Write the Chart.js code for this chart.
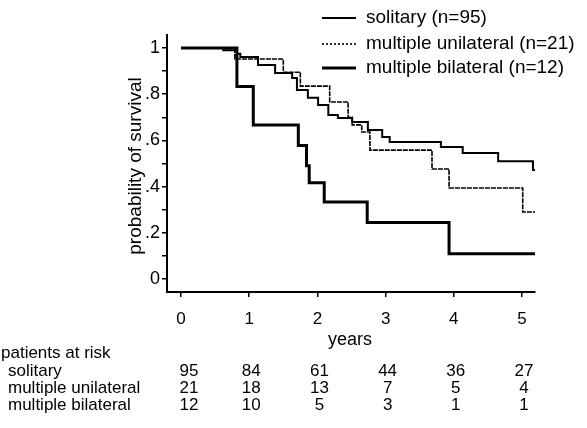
<!DOCTYPE html>
<html>
<head>
<meta charset="utf-8">
<script src="https://cdn.jsdelivr.net/npm/chart.js@4.4.1/dist/chart.umd.min.js"></script>
<style>
  html, body { margin: 0; padding: 0; background: #fff; }
  #wrap { width: 587px; height: 428px; }
</style>
</head>
<body>
<div id="wrap"><canvas id="chart" width="587" height="428"></canvas></div>
<script>
// axis ticks
const yearTicks = [0, 1, 2, 3, 4, 5];
const yearLabels = ['0', '1', '2', '3', '4', '5'];
const survTicks = [0, 0.1, 0.2, 0.3, 0.4, 0.5, 0.6, 0.7, 0.8, 0.9, 1];
const survLabels = ['0', '', '.2', '', '.4', '', '.6', '', '.8', '', '1'];

// Kaplan-Meier curves (time in years, survival)
const seriesNames = ['solitary (n=95)', 'multiple unilateral (n=21)', 'multiple bilateral (n=12)'];

const solitaryTimes = [0, 0.62, 0.82, 0.87, 1.13, 1.38, 1.63, 1.70, 1.86, 2.01, 2.16, 2.30, 2.51, 2.74, 2.95, 3.06, 3.81, 4.13, 4.65, 5.16, 5.19];
const solitarySurv  = [1, 0.99, 0.975, 0.961, 0.926, 0.892, 0.870, 0.818, 0.784, 0.753, 0.71, 0.697, 0.68, 0.645, 0.615, 0.593, 0.571, 0.545, 0.51, 0.472, 0.472];

const unilateralTimes = [0, 0.79, 1.50, 1.75, 2.18, 2.45, 2.51, 2.65, 2.77, 3.68, 3.93, 5.01, 5.19];
const unilateralSurv  = [1, 0.952, 0.895, 0.835, 0.766, 0.70, 0.667, 0.636, 0.558, 0.476, 0.394, 0.29, 0.29];

const bilateralTimes = [0, 0.82, 1.06, 1.72, 1.84, 1.88, 2.10, 2.73, 3.93, 5.19];
const bilateralSurv  = [1, 0.833, 0.667, 0.578, 0.49, 0.417, 0.333, 0.245, 0.11, 0.11];

// patients at risk table
const riskTitle = 'patients at risk';
const riskGroups = ['solitary', 'multiple unilateral', 'multiple bilateral'];
const riskSolitary = [95, 84, 61, 44, 36, 27];
const riskUnilateral = [21, 18, 13, 7, 5, 4];
const riskBilateral = [12, 10, 5, 3, 1, 1];

function toPoints(times, surv) {
  return times.map(function(t, i) { return {x: t, y: surv[i]}; });
}

const fontFamily = '"Liberation Sans", Arial, Helvetica, sans-serif';
function font(px) { return px + 'px ' + fontFamily; }

const lineWidths = [2, 1.6, 3];
const legendDash = [[], [2, 2], []];

var extraText = {
  id: 'extraText',
  afterDraw: function(chart) {
    const ctx = chart.ctx;
    const xs = chart.scales.x;
    ctx.save();
    ctx.fillStyle = '#000';
    ctx.strokeStyle = '#000';
    ctx.textBaseline = 'middle';

    // legend
    const legendY = [18, 44, 68];
    ctx.font = font(19);
    for (var i = 0; i < seriesNames.length; i++) {
      ctx.lineWidth = lineWidths[i];
      ctx.setLineDash(legendDash[i]);
      ctx.beginPath();
      ctx.moveTo(322, legendY[i]);
      ctx.lineTo(356, legendY[i]);
      ctx.stroke();
      ctx.setLineDash([]);
      ctx.textAlign = 'left';
      ctx.fillText(seriesNames[i], 366, legendY[i]);
    }

    // y title
    ctx.save();
    ctx.translate(136, 166);
    ctx.rotate(-Math.PI / 2);
    ctx.textAlign = 'center';
    ctx.font = font(19);
    ctx.fillText('probability of survival', 0, 0);
    ctx.restore();

    // x title
    ctx.textAlign = 'center';
    ctx.font = font(18);
    ctx.fillText('years', 350, 340);

    // at risk table
    ctx.font = font(17);
    ctx.textAlign = 'left';
    ctx.fillText(riskTitle, 1, 353);
    const rows = [riskSolitary, riskUnilateral, riskBilateral];
    const rowY = [371, 388, 405];
    for (var r = 0; r < rows.length; r++) {
      ctx.textAlign = 'left';
      ctx.fillText(riskGroups[r], 8, rowY[r]);
      ctx.textAlign = 'center';
      for (var c = 0; c < yearTicks.length; c++) {
        var px = xs.getPixelForValue(yearTicks[c]) + (c === 0 ? 8 : 2);
        ctx.fillText(String(rows[r][c]), px, rowY[r]);
      }
    }
    ctx.restore();
  }
};

const data = {
  datasets: [
    {
      label: seriesNames[0],
      data: toPoints(solitaryTimes, solitarySurv),
      borderColor: '#000',
      borderWidth: lineWidths[0],
      stepped: 'before',
      pointRadius: 0,
      fill: false
    },
    {
      label: seriesNames[1],
      data: toPoints(unilateralTimes, unilateralSurv),
      borderColor: '#000',
      borderWidth: lineWidths[1],
      borderDash: [5, 1],
      stepped: 'before',
      pointRadius: 0,
      fill: false
    },
    {
      label: seriesNames[2],
      data: toPoints(bilateralTimes, bilateralSurv),
      borderColor: '#000',
      borderWidth: lineWidths[2],
      stepped: 'before',
      pointRadius: 0,
      fill: false
    }
  ]
};

const config = {
  type: 'line',
  data: data,
  plugins: [extraText],
  options: {
    responsive: false,
    animation: false,
    devicePixelRatio: 1,
    layout: { padding: { top: 35, right: 52, left: 0, bottom: 0 } },
    plugins: {
      legend: { display: false },
      tooltip: { enabled: false }
    },
    scales: {
      x: {
        type: 'linear',
        min: -0.205,
        max: 5.19,
        afterFit: function(s) { s.height = 136; },
        afterBuildTicks: function(s) { s.ticks = yearTicks.map(function(v) { return {value: v}; }); },
        ticks: {
          callback: function(v, i) { return yearLabels[i]; },
          color: '#000',
          font: { family: fontFamily, size: 17 },
          padding: 12,
          maxRotation: 0,
          autoSkip: false
        },
        grid: { drawOnChartArea: false, drawTicks: true, tickLength: 5, color: '#000', lineWidth: 1.5 },
        border: { display: true, color: '#000', width: 2 }
      },
      y: {
        type: 'linear',
        min: -0.056,
        max: 1.056,
        afterFit: function(s) { s.width = 167; },
        afterBuildTicks: function(s) { s.ticks = survTicks.map(function(v) { return {value: v}; }); },
        ticks: {
          callback: function(v, i) { return survLabels[i]; },
          color: '#000',
          font: { family: fontFamily, size: 18 },
          padding: 2,
          autoSkip: false
        },
        grid: { drawOnChartArea: false, drawTicks: true, tickLength: 5, color: '#000', lineWidth: 1.5 },
        border: { display: true, color: '#000', width: 2 }
      }
    }
  }
};

const chart = new Chart(document.getElementById('chart'), config);
</script>
</body>
</html>
